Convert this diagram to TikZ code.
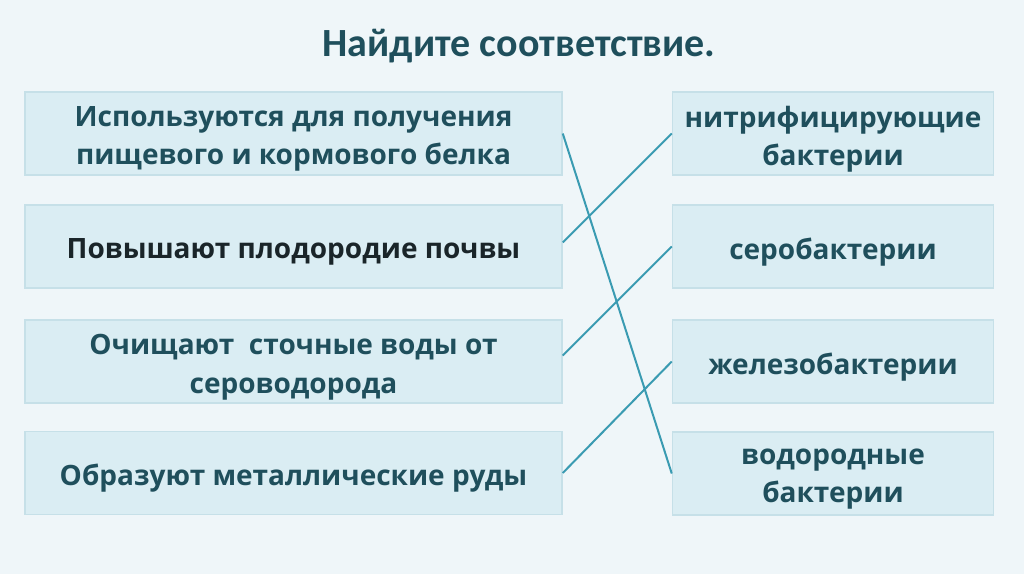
\documentclass[tikz,border=0pt]{standalone}
\usepackage{fontspec}
\setmainfont{Open Sans}
\newfontfamily\titlefont{Carlito}
\definecolor{bg}{HTML}{EFF6F9}
\definecolor{boxfill}{HTML}{DAEDF3}
\definecolor{boxline}{HTML}{C6E0E8}
\definecolor{txt}{HTML}{1F4F5C}
\definecolor{txtdark}{HTML}{1A2529}
\definecolor{link}{HTML}{3A9BB2}
\tikzset{
  pairbox/.style={draw=boxline, line width=1.5pt, fill=boxfill, inner sep=0pt},
  leftbox/.style={pairbox, minimum width=537pt, minimum height=83pt},
  rightbox/.style={pairbox, minimum width=321pt, minimum height=83pt},
  boxtext/.style={align=center, text=txt, font=\bfseries\fontsize{28}{38.5}\selectfont, inner sep=0pt, yshift=-5.5pt},
  link/.style={draw=link, line width=2pt}
}
\begin{document}
\begin{tikzpicture}[x=1pt,y=-1pt]
\fill[bg] (0,0) rectangle (1024,574);
\useasboundingbox (0,0) rectangle (1024,574);
\node[text=txt, font=\titlefont\bfseries\fontsize{40}{44}\selectfont] (title) at (519,46) {Найдите соответствие.};
\node[leftbox] (L1) at (293.5,133.5) {};
\node[leftbox] (L2) at (293.5,246.5) {};
\node[leftbox] (L3) at (293.5,361.5) {};
\node[leftbox] (L4) at (293.5,473) {};
\node[rightbox] (R1) at (833,133.5) {};
\node[rightbox] (R2) at (833,246.5) {};
\node[rightbox] (R3) at (833,361.5) {};
\node[rightbox] (R4) at (833,473.5) {};
\node[boxtext] (tL1) at (L1.center) {Используются для получения\\пищевого и кормового белка};
\node[boxtext, text=txtdark] (tL2) at (L2.center) {Повышают плодородие почвы};
\node[boxtext] (tL3) at (L3.center) {Очищают\ \ сточные воды от\\сероводорода};
\node[boxtext] (tL4) at (L4.center) {Образуют металлические руды};
\node[boxtext] (tR1) at (R1.center) {нитрифицирующие\\бактерии};
\node[boxtext] (tR2) at (R2.center) {серобактерии};
\node[boxtext] (tR3) at (R3.center) {железобактерии};
\node[boxtext] (tR4) at (R4.center) {водородные\\бактерии};
\draw[link] (L1.east) -- (R4.west);
\draw[link] ([yshift=4pt]L2.east) -- (R1.west);
\draw[link] ([yshift=6pt]L3.east) -- (R2.west);
\draw[link] (L4.east) -- (R3.west);
\end{tikzpicture}
\end{document}
